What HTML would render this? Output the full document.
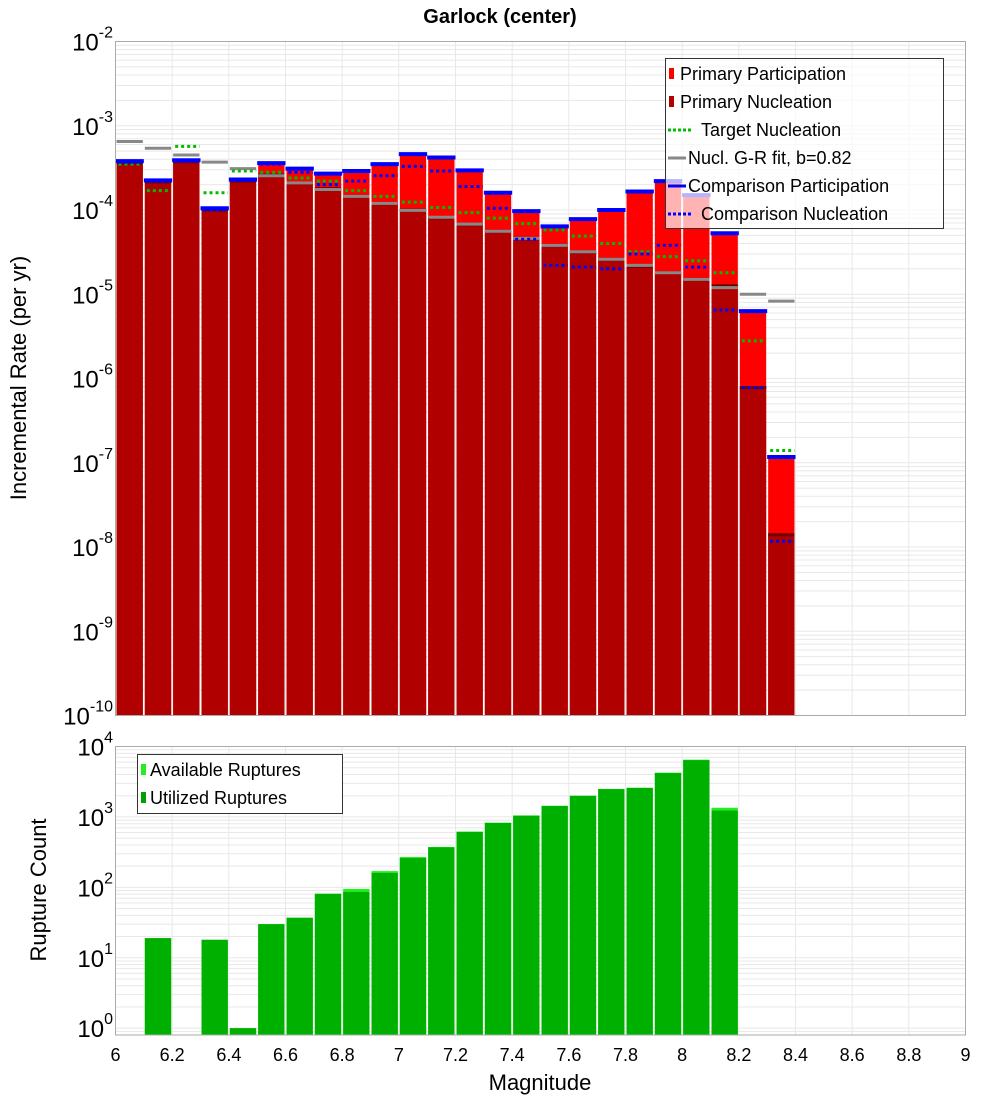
<!DOCTYPE html>
<html><head><meta charset="utf-8"><style>
body{margin:0;background:#fff}
svg{display:block;font-family:"Liberation Sans","DejaVu Sans",sans-serif}
</style></head><body>
<svg id="chart" width="1000" height="1100" xmlns="http://www.w3.org/2000/svg"></svg>
<script>
const mags=[6.05,6.15,6.25,6.35,6.45,6.55,6.65,6.75,6.85,6.95,7.05,7.15,7.25,7.35,7.45,7.55,7.65,7.75,7.85,7.95,8.05,8.15,8.25,8.35];
const primaryPart=[3.8e-4,2.25e-4,3.9e-4,1.05e-4,2.3e-4,3.6e-4,3.1e-4,2.7e-4,2.9e-4,3.5e-4,4.6e-4,4.2e-4,2.95e-4,1.6e-4,9.7e-5,6.4e-5,7.8e-5,1.0e-4,1.66e-4,2.2e-4,1.5e-4,5.3e-5,6.3e-6,1.17e-7];
const primaryNucl=[3.6e-4,2.15e-4,3.75e-4,1.0e-4,2.2e-4,2.6e-4,2.1e-4,1.8e-4,1.45e-4,1.2e-4,1.0e-4,8.1e-5,6.7e-5,5.6e-5,4.6e-5,3.8e-5,3.2e-5,2.6e-5,2.15e-5,1.8e-5,1.5e-5,1.26e-5,7.8e-7,1.4e-8];
const targetNucl=[3.5e-4,1.7e-4,5.7e-4,1.6e-4,2.9e-4,2.8e-4,2.4e-4,2.2e-4,1.7e-4,1.45e-4,1.24e-4,1.07e-4,9.3e-5,8.0e-5,6.9e-5,5.8e-5,4.9e-5,4.0e-5,3.2e-5,2.8e-5,2.5e-5,1.8e-5,2.8e-6,1.4e-7];
const grFit=[6.5e-4,5.4e-4,4.5e-4,3.7e-4,3.1e-4,2.55e-4,2.1e-4,1.75e-4,1.45e-4,1.2e-4,9.9e-5,8.2e-5,6.8e-5,5.6e-5,4.6e-5,3.8e-5,3.2e-5,2.6e-5,2.2e-5,1.8e-5,1.5e-5,1.2e-5,1.0e-5,8.3e-6];
const compPart=[3.8e-4,2.25e-4,3.9e-4,1.05e-4,2.3e-4,3.6e-4,3.1e-4,2.7e-4,2.9e-4,3.5e-4,4.6e-4,4.2e-4,2.95e-4,1.6e-4,9.7e-5,6.4e-5,7.8e-5,1.0e-4,1.66e-4,2.2e-4,1.5e-4,5.3e-5,6.3e-6,1.17e-7];
const compNucl=[3.7e-4,2.2e-4,3.8e-4,1.0e-4,2.25e-4,3.5e-4,2.8e-4,2.0e-4,2.2e-4,2.55e-4,3.3e-4,2.9e-4,1.9e-4,1.05e-4,4.5e-5,2.2e-5,2.1e-5,2.0e-5,3.0e-5,3.8e-5,2.1e-5,6.5e-6,7.8e-7,1.17e-8];
const availRup=[0,19,0,18,1,30,37,81,95,170,270,375,620,830,1050,1440,2000,2500,2600,4250,6500,1350];
const usedRup=[0,19,0,18,1,30,37,81,86,160,260,370,610,820,1040,1430,1990,2480,2580,4200,6400,1230];
const xTicks=[6,6.2,6.4,6.6,6.8,7,7.2,7.4,7.6,7.8,8,8.2,8.4,8.6,8.8,9];
const topExps=[-2,-3,-4,-5,-6,-7,-8,-9,-10];
const botExps=[4,3,2,1,0];

const NS="http://www.w3.org/2000/svg";
const svg=document.getElementById('chart');
function el(tag,attrs,parent){const e=document.createElementNS(NS,tag);for(const k in attrs)e.setAttribute(k,attrs[k]);(parent||svg).appendChild(e);return e;}
const L=115.5,R=965.5,T1=41.5,B1=715.5,T2=746.5,B2=1035;
const X=m=>L+(m-6)/3*(R-L);
const Y1=v=>T1+(-2-Math.log10(v))/8*(B1-T1);
const lmin=Math.log10(0.8);
const Y2=v=>T2+(4-Math.log10(v))/(4-lmin)*(B2-T2);
const bw=(X(6.1)-X(6));

function grid(top,bot,yf,lo,hi){
  const g=el('g',{});
  
  
  for(let e=lo;e<hi;e++)for(let k=1;k<10;k++){const v=k*Math.pow(10,e);const y=yf(v);if(y<top-0.5||y>bot+0.5)continue;
    el('line',{x1:L,x2:R,y1:y,y2:y,stroke:'#e8e8e8','stroke-width':1},g);}
  xTicks.forEach(t=>el('line',{x1:X(t),x2:X(t),y1:top,y2:bot,stroke:'#e8e8e8','stroke-width':1},g));
}
grid(T1,B1,Y1,-10,-2);
grid(T2,B2,Y2,-1,4);

// top bars
const bars=el('g',{});


mags.forEach((m,i)=>{
  const x0=X(m-0.05)+1,w=bw-2;
  const r=el('rect',{x:x0,y:Y1(primaryPart[i]),width:w,height:B1-Y1(primaryPart[i]),fill:'#ff0000'},bars);
  
  
  const n=el('rect',{x:x0,y:Y1(primaryNucl[i]),width:w,height:B1-Y1(primaryNucl[i]),fill:'#b00000'},bars);
  
  
  el('line',{x1:x0,x2:x0+w,y1:Y1(primaryNucl[i]),y2:Y1(primaryNucl[i]),stroke:'#700000','stroke-width':3},bars);
});
mags.forEach((m,i)=>{
  const x0=X(m-0.05)+1,w=bw-2;
  const g=el('line',{x1:x0,x2:x0+w,y1:Y1(grFit[i]),y2:Y1(grFit[i]),stroke:'#888','stroke-width':3},bars);
  
  
  const t=el('line',{x1:x0+2,x2:x0+w,y1:Y1(targetNucl[i]),y2:Y1(targetNucl[i]),stroke:'#00bb00','stroke-width':3,'stroke-dasharray':'3,3'},bars);
  
  
  const cn=el('line',{x1:x0+2,x2:x0+w,y1:Y1(compNucl[i]),y2:Y1(compNucl[i]),stroke:'#0000ff','stroke-width':3,'stroke-dasharray':'3,3'},bars);
  
  
  const cp=el('line',{x1:x0-1,x2:x0+w+1,y1:Y1(compPart[i]),y2:Y1(compPart[i]),stroke:'#0000ff','stroke-width':4},bars);
  
  
});

// bottom bars
const bb=el('g',{});


availRup.forEach((v,i)=>{
  if(!v)return;
  const m=6.05+i*0.1,x0=X(m-0.05)+1,w=bw-2;
  const a=el('rect',{x:x0,y:Y2(v),width:w,height:B2-Y2(v),fill:'#22ee22'},bb);
  
  
  const u=el('rect',{x:x0,y:Y2(usedRup[i]),width:w,height:B2-Y2(usedRup[i]),fill:'#00b000'},bb);
  
  
});

// frames
el('rect',{x:L,y:T1,width:R-L,height:B1-T1,fill:'none',stroke:'#aaa','stroke-width':1});
el('rect',{x:L,y:T2,width:R-L,height:B2-T2,fill:'none',stroke:'#aaa','stroke-width':1});

// y tick labels
function ylab(e,y,name){
  const t=el('text',{x:113,y:y+9,'text-anchor':'end','font-size':24,fill:'#000'});
  
  
  t.innerHTML='10<tspan dy="-13" font-size="16">'+e+'</tspan>';
}
topExps.forEach(e=>ylab(e,Y1(Math.pow(10,e)),'y-tick-label'));
botExps.forEach(e=>ylab(e,Y2(Math.pow(10,e)),'count-y-tick-label'));
// x tick labels
xTicks.forEach(t=>{
  const s=el('text',{x:X(t),y:1061,'text-anchor':'middle','font-size':18,fill:'#000'});
  
  
  s.textContent=String(t);
});
</script>
<svg style="position:absolute;left:0;top:0" width="1000" height="1100" xmlns="http://www.w3.org/2000/svg" font-family="Liberation Sans, DejaVu Sans, sans-serif">
<text x="500" y="23" text-anchor="middle" font-size="20" font-weight="bold">Garlock (center)</text>
<text transform="translate(26,378) rotate(-90)" text-anchor="middle" font-size="22">Incremental Rate (per yr)</text>
<text transform="translate(46,890) rotate(-90)" text-anchor="middle" font-size="22">Rupture Count</text>
<text x="540" y="1090" text-anchor="middle" font-size="22">Magnitude</text>
<g font-size="18">
<rect x="665.5" y="58.5" width="278" height="170" fill="#fff" fill-opacity="0.7" stroke="#333"/>
<rect x="669" y="68" width="5" height="11" fill="#f00"/><text x="680" y="80">Primary Participation</text>
<rect x="669" y="96" width="5" height="11" fill="#b00000"/><text x="680" y="108">Primary Nucleation</text>
<line x1="668" x2="693" y1="130" y2="130" stroke="#00bb00" stroke-width="3" stroke-dasharray="3,2"/><text x="701" y="136">Target Nucleation</text>
<line x1="668" x2="686" y1="158" y2="158" stroke="#888" stroke-width="3"/><text x="688" y="164">Nucl. G-R fit, b=0.82</text>
<line x1="668" x2="686" y1="186" y2="186" stroke="#00f" stroke-width="3"/><text x="688" y="192">Comparison Participation</text>
<line x1="668" x2="693" y1="214" y2="214" stroke="#00f" stroke-width="3" stroke-dasharray="3,2"/><text x="701" y="220">Comparison Nucleation</text>
</g>
<g font-size="18">
<rect x="137.5" y="754.5" width="205" height="59" fill="#fff" stroke="#333"/>
<rect x="141" y="764" width="5" height="11" fill="#22ee22"/><text x="150" y="776">Available Ruptures</text>
<rect x="141" y="792" width="5" height="11" fill="#00a000"/><text x="150" y="804">Utilized Ruptures</text>
</g>
</svg>
</body></html>
